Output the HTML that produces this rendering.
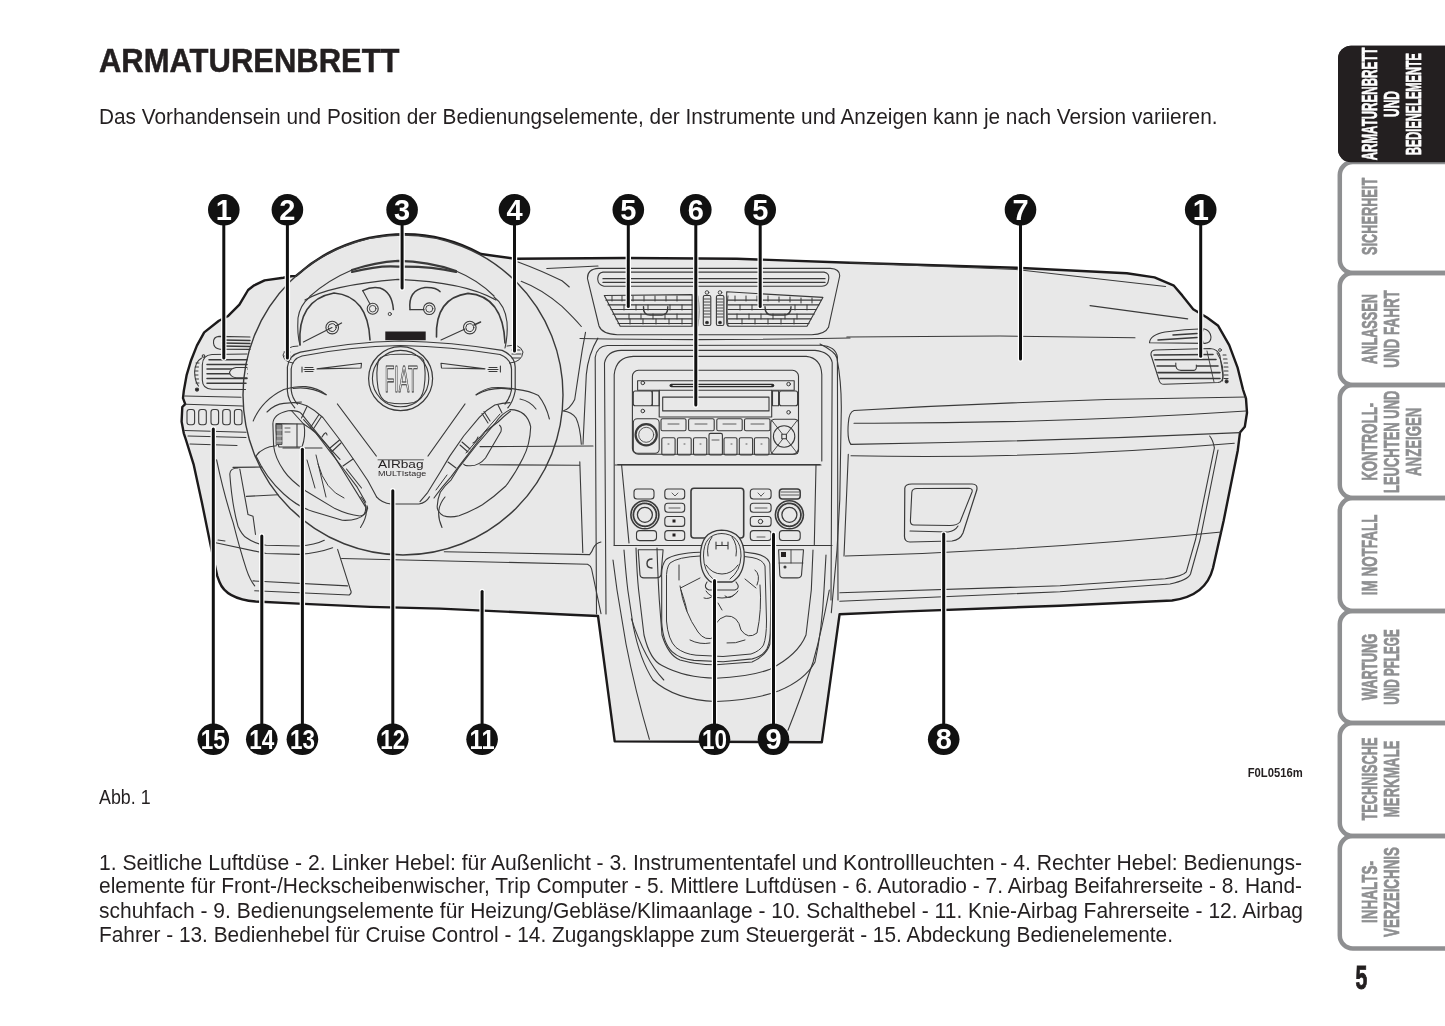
<!DOCTYPE html>
<html><head><meta charset="utf-8">
<style>
html,body{margin:0;padding:0;background:#fff;width:1445px;height:1026px;overflow:hidden}
svg{position:absolute;left:0;top:0;will-change:transform}
.t{font-family:"Liberation Sans",sans-serif;fill:#231f20}
</style></head><body>
<svg width="1445" height="1026" viewBox="0 0 1445 1026">
<text class="t" x="99" y="71.8" font-size="33.5" font-weight="bold" stroke="#231f20" stroke-width="0.5" textLength="300.5" lengthAdjust="spacingAndGlyphs">ARMATURENBRETT</text>
<text class="t" x="99" y="124.4" font-size="22" textLength="1118.5" lengthAdjust="spacingAndGlyphs">Das Vorhandensein und Position der Bedienungselemente, der Instrumente und Anzeigen kann je nach Version variieren.</text>
<g fill="none" stroke="#3a3a3a" stroke-linejoin="round" stroke-linecap="round">
<!-- silhouette -->
<path fill="#e8e8e8" stroke="#1c1a1b" stroke-width="2.4" d="M182.3 407 L185.2 404.1 L183 398.2 L183.8 390.9 L186.7 374.8 L191.1 360.2 L196.9 345.6 L204.2 332.4 L218.9 320.7 L227.7 316.3 L239.4 304.6 L248.1 290 L254.2 285.3 L264.6 280.4 L283.3 277.7 L291 276.3 L296 275.9 L298.5 273.8 A160 160 0 0 1 481 254 L515.4 258.8 L626 258 L736.8 258.8 L850 262.7 L1016 267.7 L1126.8 273.2 L1154.5 277.4 L1173.9 285.7 L1182.2 295.4 L1193.2 309.2 L1207 317.5 L1218.2 325.8 L1229.2 345.2 L1237.5 367.3 L1243 389.5 L1246 398.7 L1247 412.7 L1244.8 426.8 L1240 432.6 L1237.8 450.2 L1223.7 520.4 L1213 568 Q1206 596 1172 600.5 L1060 605.7 L900 611.6 L839.6 614.2 L821.8 742.3 L614.7 741.4 L598 616 L570 614.7 L440 608.6 L370 606.9 L298.6 603.6 L255.7 601.5 Q226 599 219.5 582 L217.2 575.8 L210.7 545.8 L202 503 L193.6 464.3 L186 440 L183.8 433.3 L181.6 421.6 Z"/>

<!-- LEFT SIDE: vent, buttons, lower panel -->
<g stroke-width="1.1">
<path d="M184.7 396 L241 397.2 M185.8 404.2 L242.5 406"/>
<path d="M184.7 430.5 L246 432.3 M188 436 L246 437.5"/>
<rect x="187" y="409.5" width="7.6" height="15.2" rx="2.5"/>
<rect x="198.7" y="409.5" width="7.6" height="15.2" rx="2.5"/>
<rect x="211" y="409.5" width="7.6" height="15.2" rx="2.5"/>
<rect x="222.7" y="409.5" width="7.6" height="15.2" rx="2.5"/>
<rect x="234.4" y="409.5" width="7.6" height="15.2" rx="2.5"/>
<!-- upper small vent -->
<path d="M250 337 L219 336.4 Q213 337 213.5 343 Q214 348.5 220 349.2 L250 349.4"/>
<path d="M222 340 L250 340.5 M222 343 L250 343.5 M222 346 L250 346.5" stroke-width="1.4"/>
<!-- main vent -->
<path d="M247 354 L212 354.5 Q202.5 355 202.3 365 L202.3 380 Q202.5 389 212 389.2 L245.5 389.5"/>
<path d="M209 359.8 L247 359.8 M207 364.4 L247 364.4 M207 369.1 L247 369.1 M207 373.8 L247 373.8 M207 378.5 L247 378.5 M207 383.2 L246 383.2" stroke-width="1.5"/>
<path d="M247 367.5 L236 367.5 Q230.5 368.5 229.5 372.5 Q230.5 377 236 377.8 L247 377.8" fill="#e8e8e8" stroke-width="1.1"/>
<path d="M201.6 358 Q195 362 194.6 372 Q195 382 198.5 386" stroke-width="1.1"/>
<path d="M196 363 L199 363 M195.3 367 L198.5 367 M195 371 L198 371 M195 375 L198 375 M195.3 379 L198.5 379 M196 383 L199 383" stroke-width="1"/>
<circle cx="197" cy="389.6" r="1.6" fill="#231f20"/>
<circle cx="203.5" cy="356" r="1.3"/>
<!-- lower knee panel -->
<path d="M190 444 L237 445.5" />
<path d="M216.6 459.9 Q224 495 233.2 522.9 Q240 550 246.4 569.3 Q250 580 254.7 585.9"/>
<path d="M238 468 Q230 468 229.8 474 Q232 505 238 526.2 Q242 535 246.4 537.8 Q255 544 266.3 545.3 L299.5 546 Q315 545 324.3 540.3"/>
<path d="M233 467.4 L262 467"/>
<path d="M239.8 469 L248 514.6 L253 516.2 L255.5 534.5"/>
<path d="M246.4 496.4 L278 494.7"/>
<path d="M215.7 542.8 Q240 548 266.3 553.5 L299.5 554.4 Q318 553 332.6 547.7"/>
<path d="M253 580.9 L347.5 585.9 M254.7 590.8 L349.2 595 Q352 593 350.8 590.8 L337.6 549.4"/>
<path d="M218 540 L225 541"/>
</g>

<!-- STEERING WHEEL -->
<g stroke-width="1.2">
<circle cx="403" cy="395" r="160" stroke-width="1.4"/>
<!-- inner rim edge top + visor -->
<path d="M309.8 296.4 Q328 280 352 270" stroke-width="1.2"/><path d="M352 270 Q375 262 398 260.8 Q428 261 456 271" stroke-width="2.3"/><path d="M456 271 Q478 280 494 296" stroke-width="1.2"/>
<path d="M352 272 Q380 265 398 266.7 Q430 266 456 272" stroke-width="2.2"/>
<path d="M305 300 Q330 285 398 279.3 Q465 282 496 300"/>
</g>
<!-- cluster -->
<g stroke-width="1.3">
<!-- left side pods of hood -->
<path d="M309.8 297 Q300 305 298 318 Q297 335 300 345" stroke-width="1.1"/>
<path d="M494 297 Q505 305 507 322 Q508 335 505 348" stroke-width="1.1"/>
<!-- left gauge -->
<path d="M300 345 Q297 300 334 293 Q368 296 370 340" stroke-width="1.6"/>
<path d="M303.4 342 L332 327.6" stroke-width="1.1"/>
<path d="M336 326 L341.5 323" stroke-width="1.4"/>
<circle cx="332.2" cy="327.6" r="6.3" stroke-width="1.1"/>
<circle cx="332.2" cy="327.6" r="4" stroke-width="1"/>
<!-- small left gauge -->
<path d="M362.8 290.7 Q372 286 380 288 Q392 292 393.4 309.6" stroke-width="1.5"/>
<path d="M362.8 290.7 L370 304" stroke-width="1.1"/>
<circle cx="372.7" cy="308.7" r="5.5" stroke-width="1.1"/>
<circle cx="372.7" cy="308.7" r="3.3" stroke-width="0.9"/>
<circle cx="389.8" cy="314" r="1.6" stroke-width="0.9"/>
<!-- small right gauge -->
<path d="M410 309.6 Q408 290 425 287.5 Q436 287 440 291.6" stroke-width="1.5"/>
<path d="M410 309.6 L424 309.6" stroke-width="1.1"/>
<circle cx="429.3" cy="308.7" r="5.8" stroke-width="1.1"/>
<circle cx="429.3" cy="308.7" r="3.5" stroke-width="0.9"/>
<!-- right gauge -->
<path d="M436.5 337 Q435 298 468 293.4 Q503 296 505 343" stroke-width="1.6"/>
<path d="M441 340 L465 329" stroke-width="1.1"/>
<path d="M474 325 L480.6 322" stroke-width="1.4"/>
<circle cx="469.8" cy="327.6" r="6.3" stroke-width="1.1"/>
<circle cx="469.8" cy="327.6" r="4" stroke-width="1"/>
<rect x="385.3" y="331.5" width="40.4" height="8.7" fill="#231f20" stroke="none"/>
<!-- stalk ends near hood -->
<path d="M298 346 Q286 346 283 355 Q284 362 293 363" stroke-width="1"/>
<path d="M284 352 L290 352 M284 356 L290 356 M285 359 L291 359" stroke-width="1"/>
<path d="M507 346 Q520 343 523 352 Q522 362 510 363" stroke-width="1"/>
<path d="M512 350 L520 350 M512 354 L521 354 M512 358 L520 358" stroke-width="1"/>
</g>

<!-- hub -->
<g stroke-width="1.2">
<path d="M294.8 407.8 Q288 400 287.4 391 L287.4 367 Q289 355 300.4 352.2 Q350 342 400.4 341 Q452 342 502.2 350.4 Q515 356 515.2 367 L515.2 391 Q513 402 507.8 407.8 M376.5 496.8 Q382 503 391 504 L419 504 Q426 503 429.5 496.8"/>
<path d="M302 356 Q350 346.5 400.4 345.5 Q452 346.5 500 354.5 Q511 359 511.5 369 L511.5 390 Q510 398 505 404 M297.5 404 Q292 398 291.2 390 L291.2 369 Q292 359 302 356"/>
<!-- FIAT -->
<circle cx="400.6" cy="378.6" r="32" stroke-width="1.2"/>
<circle cx="400.6" cy="378.6" r="28.2" stroke-width="1.1"/>
<path d="M401 354.3 Q420 353.5 423.5 360 Q426.5 372 424 388 Q422 400 414 402.5 Q401 405 388 402.5 Q380 400 378 388 Q375.5 372 378.5 360 Q382 353.5 401 354.3 Z" stroke-width="1.1"/>
<text x="401.2" y="391.9" text-anchor="middle" font-family="Liberation Sans" font-size="37" fill="none" stroke="#2a2a2a" stroke-width="1.05" textLength="33" lengthAdjust="spacingAndGlyphs">FIAT</text>
<!-- horn wedges -->
<path d="M317 368.9 L361.5 363.3 L361 368 Z" stroke-width="1.1"/>
<path d="M441 363.3 L485 368.9 L441.5 368 Z" stroke-width="1.1"/>
<path d="M302 367 L302 372 M304 369.5 L314 369.5 M305 367.5 L313 367.5 M305 371.5 L313 371.5" stroke-width="1.1"/>
<path d="M500.4 366 L500.4 372 M488 369.5 L498 369.5 M489 367.5 L497 367.5 M489 371.5 L497 371.5" stroke-width="1.1"/>
<!-- side arcs on hub -->
<path d="M293 388.5 Q310 386 326 394.8" />
<path d="M476.3 394.8 Q492 386 511.5 389.3"/>
<!-- inner diagonal lines -->
<path d="M337.4 404 L376.3 456"/>
<path d="M465 404 L428 456"/>
<!-- airbag text -->
<text x="378" y="468" font-family="Liberation Sans" font-size="10" fill="#231f20" stroke="none" textLength="45.5" lengthAdjust="spacingAndGlyphs">AIRbag</text>
<path d="M378 459.8 L423.5 459.8" stroke-width="0.8"/>
<text x="378" y="476.3" font-family="Liberation Sans" font-size="7.5" fill="#231f20" stroke="none" textLength="48.3" lengthAdjust="spacingAndGlyphs">MULTIstage</text>
</g>

<!-- spokes -->
<g stroke-width="1.1">
<!-- left spoke band -->
<path d="M292.9 402.5 Q300 403 306.8 405.7 Q315 410 322.9 417.5 L340 440 L355 461.5 L367.9 480.7 L376.5 496.8"/>
<path d="M291.8 411 L303.6 424 Q310 428 315.4 432.5 L329.3 450.7 L344.3 470 L357.2 487.2 L365.7 502.2"/>
<path d="M303.6 419.6 L340 459.3 M346.5 469 L361.5 488"/>
<path d="M301.5 418 L307 406.5 M310.5 427.5 L319 414.5 M313 429.5 L321.5 416.5 M330 448 L339.5 440 M332 451.5 L341 443 M343 466 L353 459"/>
<path d="M322 437 Q326 430 327 435"/>
<!-- left inner loop (opening) -->
<path d="M272.9 423.8 Q273 414 288.2 410.7 Q298 410 301.4 413.6 L313 428.2 L327.7 445.8 L365.7 507.1 Q366 516 359.8 516 Q348 515 335 508.6 L305.8 491 Q290 480 283.8 470.6 Q275 458 273.6 445.8 Z"/>
<!-- left outer loop -->
<path d="M253.2 421 Q262 400 283.8 389.5 Q296 386 305.8 386.6 Q318 388 326.2 394.6"/>
<path d="M267 412 Q275 404 283.8 403.4 L301.4 402"/>
<path d="M256 456 Q262 447 276.5 445.8 M256 456 Q266 478 283.8 494 Q298 507 313 511.5 L342.3 520.3 Q358 521 364.2 514.4 Q369 510 367 505.7"/>
<!-- right spoke band -->
<path d="M510 402.6 Q502 403 494.8 405 Q486 410 479.3 417.4 L463.7 436 L449.6 456.4 L440.3 472 L427.8 492.3 L420 501.6"/>
<path d="M510.4 411.2 Q504 416 498 422 L485.5 431.5 L460.5 464.2 L451.2 476.7 L441.8 487.6 L434 498"/>
<path d="M500 414 L466 453 M447 475 L436 490" stroke-width="1"/>
<path d="M502 413 L498 405 M490 421 L484 411.5 M488 423 L482 413.5 M470 449 L462 442 M468 452 L460 445 M456 468 L448 462"/>
<path d="M499.5 425.2 Q502 427 501 431.5 L485.5 458 Q479 466 469.9 465.8 Q465 466 463.7 464.2"/>
<path d="M478 437 Q476 442 473 443"/>
<!-- right inner loop (opening) -->
<path d="M510.4 409.6 Q527 410 530.7 426.8 Q530 445 523 458 Q515 474 505.8 486 Q494 497 482.4 504.7 Q470 512 459 515.7 Q450 518 443.4 515.7 Q437 512 437.2 506.3 Q437.5 499 440.3 492.3 Q445 485 451.2 479.8 L459 467.3 L476.1 445.5 L494.8 423.7 Q502 413 510.4 409.6 Z"/>
<!-- right outer arcs -->
<path d="M476.1 394.8 Q484 389 491.7 387.8 Q505 387 516.7 389.4 Q530 391 538.5 395.6 Q546 405 549.4 419"/>
<path d="M520 399 Q530 401 536 409"/>
<!-- inner rim bottom -->
<path d="M361 497 Q372 510 360.5 527.5 M445 497 Q434 510 442 527.5"/>
<!-- turn signal stalk (left) -->
<path d="M276 423.6 L304 424 Q306 436 302 447 L279 447 Q276 440 276 423.6 Z"/>
<rect x="276.5" y="424.5" width="5.5" height="20" fill="#8a8a8a" stroke-width="0.8"/>
<path d="M277 430 L282 430 M277 436 L282 436 M277 441 L282 441" stroke="#e8e8e8" stroke-width="0.8"/>
<path d="M285 428 L290 428 M285 432 L290 432" stroke-width="0.8"/>
<path d="M297 424 L297 447"/>
<path d="M283 448 L322 448"/>
<path d="M316 455 L326 497 M318 464 Q325 490 344 498 M307 460 L315 488" stroke-width="1"/>
</g>
<!-- CENTER VENTS -->
<g stroke-width="1.1">
<path d="M598.7 268.4 L830.4 268.4 Q840 269 839.7 276 L828.5 327.3 Q825 334.5 811.7 334.7 L617.4 334.7 Q602 334 599 326 L587.5 278.7 Q587 269 598.7 268.4 Z"/>
<path d="M603 272.1 L824 272.1 Q830 273 828.5 280 Q828 286 822 286.2 L604 286.2 Q598 285 597.7 279 Q598 272.5 603 272.1 Z"/>
<path d="M603 278.7 L825 278.7 M603 282.4 L825 282.4" stroke-width="1.3"/>
<path d="M604.3 295.5 L692.1 294.6 L692.1 326.3 L620.2 326.3 Z"/>
<path d="M606 300.2 L692 300.2 M608 304.8 L692 304.8 M611 309.5 L692 309.5 M613 314.2 L692 314.2 M616 318.9 L692 318.9 M618 323.5 L692 323.5" stroke-width="1.2"/>
<path d="M612 296 L612 301 M622 296 L622 301 M633 296 L633 301 M644 296 L644 301 M655 296 L655 301 M666 296 L666 301 M677 296 L677 301 M624 305 L624 310 M636 305 L636 310 M648 305 L648 310 M670 305 L670 310 M682 305 L682 310 M629 314 L629 319 M641 314 L641 319 M653 314 L653 319 M665 314 L665 319 M677 314 L677 319 M630 319 L630 324 M643 319 L643 324 M656 319 L656 324 M669 319 L669 324 M682 319 L682 324" stroke-width="1"/>
<path d="M643.5 306.7 Q643 315 650 315.1 L662 315.1 Q668 315 667.8 306.7" stroke-width="1.4"/>
<path d="M726.7 291.8 L822.9 297.4 L807 326.3 L729.5 326.3 Q726.5 326 726.7 322 Z"/>
<path d="M728 300.2 L821 300.2 M728 304.8 L819 304.8 M728 309.5 L816 309.5 M728 314.2 L814 314.2 M728 318.9 L811 318.9 M728 323.5 L809 323.5" stroke-width="1.2"/>
<path d="M735 296 L735 301 M746 296 L746 301 M757 296 L757 301 M768 296 L768 301 M779 297 L779 302 M790 297 L790 302 M801 298 L801 303 M812 298 L812 303 M740 305 L740 310 M752 305 L752 310 M795 305 L795 310 M807 305 L807 310 M737 314 L737 319 M749 314 L749 319 M761 314 L761 319 M773 314 L773 319 M785 314 L785 319 M797 314 L797 319 M742 319 L742 324 M755 319 L755 324 M768 319 L768 324 M781 319 L781 324 M794 319 L794 324" stroke-width="1"/>
<path d="M765 306.7 Q765 315 772 315.1 L784 315.1 Q791 315 791 306.7" stroke-width="1.4"/>
<rect x="703.3" y="295.5" width="7.5" height="30" rx="1.5"/>
<rect x="716.4" y="295.5" width="7.5" height="30" rx="1.5"/>
<path d="M704 299 L710 299 M704 302 L710 302 M704 305 L710 305 M704 308 L710 308 M704 311 L710 311 M704 314 L710 314 M704 317 L710 317 M717 299 L723 299 M717 302 L723 302 M717 305 L723 305 M717 308 L723 308 M717 311 L723 311 M717 314 L723 314 M717 317 L723 317" stroke-width="0.9"/>
<circle cx="707" cy="292.5" r="1.8" stroke-width="0.9"/>
<circle cx="720" cy="292.5" r="1.8" stroke-width="0.9"/>
<circle cx="707" cy="322.5" r="1.3" fill="#231f20"/>
<circle cx="720" cy="322.5" r="1.3" fill="#231f20"/>
<path d="M698 296 Q700 310 698 326 M728 296 Q726 310 728 326" stroke-width="0.9"/>
</g>

<!-- CONSOLE FRAME -->
<g stroke-width="1.1">
<path d="M580 338.5 Q700 341 850 338"/>
<path d="M596.5 614 L595.2 357.3 Q597 346 607.3 345.5 L820 345.2 Q836 346 837.4 357.3 L838 600"/>
<path d="M606 614 L604.5 363 Q607 351 621.1 350.4 L815 350.4 Q830 352 832.2 362.5 L831 600"/>
<path d="M614.2 545 L614.2 374.6 Q616 357 633.3 356.4 L806.3 356.4 Q821 358 821.8 374.6 L821.8 461"/>
<path d="M617.7 464.6 L820 464.6"/>
<!-- radio face -->
<rect x="632.4" y="370.3" width="166.1" height="83.9" rx="6"/>
<path d="M637.6 380.7 L794.2 380.7 L794.2 390.2 L637.6 390.2 Z"/>
<path d="M671.3 385.5 L772.5 385.5" stroke="#2a2a2a" stroke-width="3.6"/>
<path d="M673 385.5 L771 385.5" stroke="#d8d8d8" stroke-width="1"/>
<circle cx="642.8" cy="382.9" r="1.8" stroke-width="1"/>
<circle cx="788.6" cy="384.1" r="1.8" stroke-width="1"/>
<circle cx="642.8" cy="411" r="1.8" stroke-width="1"/>
<circle cx="788.6" cy="412.3" r="1.8" stroke-width="1"/>
<path d="M659.2 390.2 L659.2 417 L771.7 417 L771.7 390.2"/>
<rect x="662.7" y="397.1" width="106.3" height="13.8"/>
<rect x="633.3" y="391" width="19" height="14.7" rx="2"/>
<rect x="652.3" y="391" width="6.9" height="14.7"/>
<rect x="772.5" y="391" width="6.1" height="14.7"/>
<rect x="779.4" y="391" width="18.2" height="14.7" rx="2"/>
<rect x="661" y="418.7" width="25" height="12.1" rx="1.5"/>
<rect x="688.6" y="418.7" width="25.6" height="12.1" rx="1.5"/>
<rect x="716.8" y="418.7" width="25.4" height="12.1" rx="1.5"/>
<rect x="744.5" y="418.7" width="25.5" height="12.1" rx="1.5"/>
<rect x="661.8" y="437.8" width="13.3" height="17.2" rx="1.5"/>
<rect x="677.4" y="437.8" width="13.8" height="17.2" rx="1.5"/>
<rect x="693.5" y="437.8" width="13.3" height="17.2" rx="1.5"/>
<rect x="709" y="433.4" width="13.4" height="21.6" rx="1.5"/>
<rect x="724" y="437.8" width="13" height="17.2" rx="1.5"/>
<rect x="739.3" y="437.8" width="13.3" height="17.2" rx="1.5"/>
<rect x="754.4" y="437.8" width="14.6" height="17.2" rx="1.5"/>
<path d="M668 424 L679 424 M695 424 L707 424 M723 424 L736 424 M751 424 L764 424 M668 444 L669 444 M684 444 L685 444 M700 444 L701 444 M712 440 L719 440 M731 444 L732 444 M746 444 L747 444 M761 444 L762 444" stroke-width="0.8"/>
<rect x="633.3" y="418.7" width="25.9" height="34.6" rx="4"/>
<circle cx="646.2" cy="434.8" r="10.6" stroke-width="2.2"/>
<circle cx="646.2" cy="434.8" r="7.5" stroke-width="0.8"/>
<rect x="770.8" y="419.2" width="27.7" height="35" rx="4"/>
<circle cx="784.1" cy="436.5" r="10.7"/>
<path d="M771.5 420 L797.5 453.5 M797.5 420 L771.5 453.5" stroke-width="0.9"/>
<rect x="781.8" y="434.2" width="4.6" height="4.6" fill="#e8e8e8"/>
</g>

<!-- CLIMATE -->
<g stroke-width="1.1">
<path d="M615 465 L821 465"/>
<path d="M621.6 465 L629 543 M816 465 L814.3 544.7"/>
<path d="M614 545.5 L832 545.5"/>
<rect x="691" y="488.2" width="52.7" height="49.8" rx="3" stroke-width="1.6"/>
<circle cx="644.9" cy="514.8" r="14" stroke-width="1.6"/>
<circle cx="644.9" cy="514.8" r="11.5" stroke-width="1.8" stroke-dasharray="1.2 1"/>
<circle cx="644.9" cy="514.8" r="7.5" stroke-width="1.3"/>
<circle cx="789.4" cy="514.8" r="14" stroke-width="1.6"/>
<circle cx="789.4" cy="514.8" r="11.5" stroke-width="1.8" stroke-dasharray="1.2 1"/>
<circle cx="789.4" cy="514.8" r="7.5" stroke-width="1.3"/>
<rect x="634" y="489" width="20" height="10" rx="3"/>
<rect x="636.5" y="530.6" width="20" height="10" rx="3"/>
<rect x="664.8" y="489" width="19.9" height="10" rx="3"/>
<rect x="664.8" y="503.2" width="19.9" height="9.1" rx="3"/>
<rect x="664.8" y="516.5" width="19.9" height="9.9" rx="3"/>
<rect x="664.8" y="530.6" width="19.9" height="9.9" rx="3"/>
<rect x="750.3" y="489" width="20.8" height="10" rx="3"/>
<rect x="750.3" y="503.2" width="20.8" height="9.1" rx="3"/>
<rect x="750.3" y="516.5" width="20.8" height="9.9" rx="3"/>
<rect x="750.3" y="530.6" width="20.8" height="9.9" rx="3"/>
<rect x="779.4" y="489" width="20.8" height="10" rx="3" stroke-width="1.5"/>
<path d="M781 492 L799 492 M781 495 L799 495" stroke-width="0.8"/>
<rect x="779.4" y="530.6" width="20.8" height="9.9" rx="3"/>
<path d="M672 493 L675 496 L678 493 M758 493 L761 496 M761 496 L764 493 M669 508 L680 508 M755 508 L767 508 M757 537 L765 537" stroke-width="0.8"/>
<rect x="672.5" y="519.5" width="3" height="3" fill="#231f20" stroke="none"/>
<rect x="672.5" y="533.5" width="3" height="3" fill="#231f20" stroke="none"/>
<circle cx="760.5" cy="521.5" r="2.2" stroke-width="1"/>
<!-- small buttons below -->
<path d="M638.2 549.7 L663.1 549.7 L661 575 Q660 578 656 577.9 L644 577.9 Q640.5 578 640 575 Z"/>
<path d="M652 559 Q647 559 647 563.5 Q647 568 652 568" stroke-width="1.4"/>
<path d="M778.6 549.7 L803.5 549.7 L801.5 575 Q801 578 797 577.9 L784 577.9 Q780 578 779.8 575 Z"/>
<path d="M779 563 L803 563 M791 550 L791 563" stroke-width="0.9"/>
<rect x="781" y="552" width="5" height="5" fill="#231f20" stroke="none"/>
<circle cx="785" cy="567" r="1" fill="#231f20"/>
</g>

<!-- GEAR & BOOT & U-lines -->
<g stroke-width="1.1">
<path d="M657 548 Q658 580 659.3 600 L662 635 Q668 655 680 660 Q698 665 716 664.7 L752 662 Q766 656 770 644 L771 600 L772 560"/>
<path d="M636 548 Q637 575 638.6 590 L644 635 Q650 660 662 665.6 Q685 678 716 678.2 Q750 677 770 669.2 Q798 655 806 635 L811.3 590 L813 550"/>
<path d="M624 550 Q626 575 627.8 590 L633.2 626 Q640 660 653 680 Q675 700 716 701.5 Q755 700 779 690.8 Q805 680 815 662 Q822 630 824 590 L826 555"/>
<path d="M613 560 Q615 575 617 590 Q622 620 626 644 Q635 690 649.4 739.3"/>
<path d="M631.4 618.8 Q645 660 663.8 680"/>
<path d="M829.3 590 Q822 630 813.1 662 Q800 700 788 730.3"/>
<!-- boot -->
<path d="M699.7 552.2 Q675 553 666 559.5 Q661 565 661.7 578.5 L661.7 622.3 Q663 643 672 651.6 Q680 659 693.9 660.4 L723.1 661.8 L752.3 658.9 Q763 656 767 648.7 Q771 640 771.3 622.3 L769.9 563.9 Q768 556 755.3 553.6 L744 552"/>
<path d="M700 556 Q678 557 670 563 Q666 568 666.5 580 L666.5 621 Q668 640 676 647.5 Q684 654 696 655.2 L723 656.5 L751 654 Q760 651 763.5 645 Q766.5 637 766.5 621 L765 566 Q763 559.5 752 557.5 L744 556.5" stroke-width="1"/>
<path d="M679 565 L679 580 M681 590 Q686 605 687 611 M680 586 Q684 612 698 632 Q705 642 715 637 Q712 620 726 616 Q738 615 741 630 Q748 640 757 633 Q762 610 760 585 M755 570 Q761 575 757 585 M680.5 588 L700 578 M745 579 L756 588 M704 598 Q709 600 714 595 M725 596 Q730 600 735 594 M718 603 L722 610 M690 640 Q700 645 710 643 M745 640 Q735 644 727 643" stroke-width="1"/>
<!-- knob -->
<path d="M721.6 530.2 Q744.3 531 744.3 556.5 Q744 575 732 582 L711 582 Q700.4 575 700.4 556.5 Q700.4 531 721.6 530.2 Z" fill="#e8e8e8" stroke-width="1.3"/>
<path d="M721.6 533.5 Q741 534 741 556 Q740.5 571 730 579 M713 579 Q703.5 571 703.5 556 Q703.5 534 721.6 533.5" stroke-width="1"/>
<path d="M712 537 Q706 545 708 556 M732 537 Q738 545 736 556" stroke-width="1"/>
<path d="M706 565 Q712 574 722 574 Q732 574 738 565" stroke-width="1"/>
<path d="M707 582 Q703 588 709 590 L735 590 Q741 588 736 582" stroke-width="1.1"/>
<path d="M706 591 Q710 598 722 598 Q734 598 738 591" stroke-width="1"/>
<path d="M716 542 L716 549 M728 542 L728 549 M716 545.5 L728 545.5 M722 542 L722 545.5" stroke-width="1.1"/>
</g>
<!-- RIGHT PART: top lines, glovebox, right vent -->
<g stroke-width="1.1">
<path d="M518 261.9 Q541.6 270.6 562 280.8 Q566 284 569.3 287"/>
<path d="M546.8 268.5 L598 266"/>
<path d="M521.2 281.3 Q541.6 289 562 306.4 Q574 318 581.3 326.5"/>
<path d="M585.5 332.3 Q582 350 579.7 366.3 L574.7 399.5 Q570 409 563 411 Q572 412 576 418 Q580 426 581.3 444.2"/>
<path d="M597.9 338.1 Q588 355 586.3 374.6 L583 444.2"/>
<path d="M480 446.6 L593 446"/>
<path d="M480 464.7 L579.8 465.3 M579.8 461.7 L582.8 552.4"/>
<path d="M444.3 551.8 L589.6 554.6 Q592 552 593.5 547.8 Q596 543 601 542 M341.6 558.5 L587.6 564.3 Q591 566 591.6 569 L601 613.7"/>
<!-- top area lines -->
<path d="M850 262.7 L1016 269.5 L1165.6 286.5"/>
<path d="M846.8 337 L1000 336 L1135 337.7"/>
<path d="M1090 305.6 L1187.7 318.9"/>
<!-- console right frame -->
<path d="M820 344 Q836 352 837 358.3 Q842 385 841.2 414.8 L839.8 499.5 L837 550.4 L831.3 612.6"/>
<!-- glove ledge -->
<path d="M854 410.5 Q1050.0 399.2 1246 397 M848.3 423.2 Q849 412 854 410.5 M851 444.4 Q847 440 848.3 423.2"/>
<path d="M854 423.2 Q1050.0 423.9 1246 411"/>
<path d="M851 444.4 Q1044.5 441.5 1240 432.6"/>
<path d="M851 455.7 Q1043.3 459.6 1234.3 443.2"/>
<path d="M848.3 454.3 L844 556"/>
<path d="M845.4 556 Q1032.6 551.0 1221.4 532"/>
<path d="M839.8 592.8 L1060 585.8 L1165.3 578.8 Q1183 576 1186.3 571.8 L1195.7 539 L1214.4 447.8 Q1213 440 1209.7 436"/>
<path d="M839.8 601.3 L1060 591.7 L1170 584 Q1188 580 1190.5 574 L1200 540 L1218 450"/>
<!-- glovebox handle -->
<path d="M904.8 488.2 Q905 484 912 484 L972 484 Q978 484 976.8 490 L963 533 Q960 540 952 541 L910 542 Q904 542 904.5 535 Z" stroke-width="1.2"/>
<path d="M911.8 492.5 Q912 488.5 917 488.5 L969 488.2 Q973 488.5 972 492 L960 522 Q957 525.5 950 525.5 L914 525 Q910.4 525 910.4 521 Z"/>
<path d="M910 531 L948 532 Q955 531 958 526"/>
<!-- right vents -->
<path d="M1149.5 342.7 Q1150 335 1165 332 Q1185 329 1203.6 328.8 Q1210 330 1211 337 Q1211 343 1205 343.4 Z"/>
<path d="M1158 340 L1197 337.5 M1173 335 L1197 333.5" stroke-width="1.5"/>
<path d="M1203.6 329 Q1200 336 1203.6 343.2" stroke-width="0.9"/>
<path d="M1155 350 L1210 348.5 Q1218 349 1220 356 L1223 376 Q1223 382 1218 382.5 L1164 384.3 Q1160 384.3 1159 380 L1151 355 Q1150.5 350.5 1155 350 Z"/>
<path d="M1154 355 L1213 354.5 M1155 359.8 L1216 359.5 M1157 366 L1218 366 M1158 372.6 L1220 372.6 M1160 378.5 L1220 378.5" stroke-width="1.6"/>
<path d="M1175.8 363 Q1175 370.4 1181 370.4 L1194 370.4 Q1197 370 1196.3 365" fill="#e8e8e8" stroke-width="1.1"/>
<path d="M1207 351 L1214 382" stroke-width="0.9"/>
<path d="M1217 353 Q1225 365 1222.6 381" stroke-width="1"/>
<path d="M1223 355 L1226 355 M1223.5 359 L1227 359 M1224 363 L1227.5 363 M1224 367 L1228 367 M1224 371 L1228 371 M1224 375 L1228 375 M1224 378.5 L1228 378.5" stroke-width="1.1"/>
<circle cx="1220" cy="350" r="1.4" stroke-width="0.9"/>
<circle cx="1226.6" cy="381.4" r="1.5" fill="#231f20"/>
</g>

</g>
<line x1="223.8" y1="209.8" x2="223.8" y2="358" stroke="#fff" stroke-width="5.4" stroke-linecap="round"/>
<line x1="287.4" y1="209.8" x2="287.4" y2="358" stroke="#fff" stroke-width="5.4" stroke-linecap="round"/>
<line x1="402.1" y1="209.8" x2="402.1" y2="288" stroke="#fff" stroke-width="5.4" stroke-linecap="round"/>
<line x1="514.5" y1="209.8" x2="514.5" y2="351" stroke="#fff" stroke-width="5.4" stroke-linecap="round"/>
<line x1="628.3" y1="209.8" x2="628.3" y2="306.4" stroke="#fff" stroke-width="5.4" stroke-linecap="round"/>
<line x1="695.8" y1="209.8" x2="695.8" y2="405" stroke="#fff" stroke-width="5.4" stroke-linecap="round"/>
<line x1="760.2" y1="209.8" x2="760.2" y2="306.4" stroke="#fff" stroke-width="5.4" stroke-linecap="round"/>
<line x1="1020.5" y1="209.8" x2="1020.5" y2="359" stroke="#fff" stroke-width="5.4" stroke-linecap="round"/>
<line x1="1200.7" y1="209.8" x2="1200.7" y2="356.3" stroke="#fff" stroke-width="5.4" stroke-linecap="round"/>
<line x1="213.3" y1="739.3" x2="213.3" y2="428.9" stroke="#fff" stroke-width="5.4" stroke-linecap="round"/>
<line x1="261.8" y1="739.3" x2="261.8" y2="536" stroke="#fff" stroke-width="5.4" stroke-linecap="round"/>
<line x1="302.4" y1="739.3" x2="302.4" y2="449.3" stroke="#fff" stroke-width="5.4" stroke-linecap="round"/>
<line x1="392.8" y1="739.3" x2="392.8" y2="490.7" stroke="#fff" stroke-width="5.4" stroke-linecap="round"/>
<line x1="482.1" y1="739.3" x2="482.1" y2="591.5" stroke="#fff" stroke-width="5.4" stroke-linecap="round"/>
<line x1="714.5" y1="739.3" x2="714.5" y2="580.6" stroke="#fff" stroke-width="5.4" stroke-linecap="round"/>
<line x1="773.5" y1="739.3" x2="773.5" y2="534.3" stroke="#fff" stroke-width="5.4" stroke-linecap="round"/>
<line x1="943.7" y1="739.3" x2="943.7" y2="534" stroke="#fff" stroke-width="5.4" stroke-linecap="round"/>
<line x1="223.8" y1="209.8" x2="223.8" y2="358" stroke="#111" stroke-width="3" stroke-linecap="round"/>
<line x1="287.4" y1="209.8" x2="287.4" y2="358" stroke="#111" stroke-width="3" stroke-linecap="round"/>
<line x1="402.1" y1="209.8" x2="402.1" y2="288" stroke="#111" stroke-width="3" stroke-linecap="round"/>
<line x1="514.5" y1="209.8" x2="514.5" y2="351" stroke="#111" stroke-width="3" stroke-linecap="round"/>
<line x1="628.3" y1="209.8" x2="628.3" y2="306.4" stroke="#111" stroke-width="3" stroke-linecap="round"/>
<line x1="695.8" y1="209.8" x2="695.8" y2="405" stroke="#111" stroke-width="3" stroke-linecap="round"/>
<line x1="760.2" y1="209.8" x2="760.2" y2="306.4" stroke="#111" stroke-width="3" stroke-linecap="round"/>
<line x1="1020.5" y1="209.8" x2="1020.5" y2="359" stroke="#111" stroke-width="3" stroke-linecap="round"/>
<line x1="1200.7" y1="209.8" x2="1200.7" y2="356.3" stroke="#111" stroke-width="3" stroke-linecap="round"/>
<line x1="213.3" y1="739.3" x2="213.3" y2="428.9" stroke="#111" stroke-width="3" stroke-linecap="round"/>
<line x1="261.8" y1="739.3" x2="261.8" y2="536" stroke="#111" stroke-width="3" stroke-linecap="round"/>
<line x1="302.4" y1="739.3" x2="302.4" y2="449.3" stroke="#111" stroke-width="3" stroke-linecap="round"/>
<line x1="392.8" y1="739.3" x2="392.8" y2="490.7" stroke="#111" stroke-width="3" stroke-linecap="round"/>
<line x1="482.1" y1="739.3" x2="482.1" y2="591.5" stroke="#111" stroke-width="3" stroke-linecap="round"/>
<line x1="714.5" y1="739.3" x2="714.5" y2="580.6" stroke="#111" stroke-width="3" stroke-linecap="round"/>
<line x1="773.5" y1="739.3" x2="773.5" y2="534.3" stroke="#111" stroke-width="3" stroke-linecap="round"/>
<line x1="943.7" y1="739.3" x2="943.7" y2="534" stroke="#111" stroke-width="3" stroke-linecap="round"/>
<circle cx="223.8" cy="209.8" r="15.8" fill="#111"/>
<text x="223.8" y="219.60000000000002" text-anchor="middle" font-family="Liberation Sans" font-weight="bold" font-size="29" fill="#fff">1</text>
<circle cx="287.4" cy="209.8" r="15.8" fill="#111"/>
<text x="287.4" y="219.60000000000002" text-anchor="middle" font-family="Liberation Sans" font-weight="bold" font-size="29" fill="#fff">2</text>
<circle cx="402.1" cy="209.8" r="15.8" fill="#111"/>
<text x="402.1" y="219.60000000000002" text-anchor="middle" font-family="Liberation Sans" font-weight="bold" font-size="29" fill="#fff">3</text>
<circle cx="514.5" cy="209.8" r="15.8" fill="#111"/>
<text x="514.5" y="219.60000000000002" text-anchor="middle" font-family="Liberation Sans" font-weight="bold" font-size="29" fill="#fff">4</text>
<circle cx="628.3" cy="209.8" r="15.8" fill="#111"/>
<text x="628.3" y="219.60000000000002" text-anchor="middle" font-family="Liberation Sans" font-weight="bold" font-size="29" fill="#fff">5</text>
<circle cx="695.8" cy="209.8" r="15.8" fill="#111"/>
<text x="695.8" y="219.60000000000002" text-anchor="middle" font-family="Liberation Sans" font-weight="bold" font-size="29" fill="#fff">6</text>
<circle cx="760.2" cy="209.8" r="15.8" fill="#111"/>
<text x="760.2" y="219.60000000000002" text-anchor="middle" font-family="Liberation Sans" font-weight="bold" font-size="29" fill="#fff">5</text>
<circle cx="1020.5" cy="209.8" r="15.8" fill="#111"/>
<text x="1020.5" y="219.60000000000002" text-anchor="middle" font-family="Liberation Sans" font-weight="bold" font-size="29" fill="#fff">7</text>
<circle cx="1200.7" cy="209.8" r="15.8" fill="#111"/>
<text x="1200.7" y="219.60000000000002" text-anchor="middle" font-family="Liberation Sans" font-weight="bold" font-size="29" fill="#fff">1</text>
<circle cx="213.3" cy="739.3" r="15.8" fill="#111"/>
<text x="213.3" y="749.0" text-anchor="middle" font-family="Liberation Sans" font-weight="bold" font-size="27" fill="#fff" textLength="25" lengthAdjust="spacingAndGlyphs">15</text>
<circle cx="261.8" cy="739.3" r="15.8" fill="#111"/>
<text x="261.8" y="749.0" text-anchor="middle" font-family="Liberation Sans" font-weight="bold" font-size="27" fill="#fff" textLength="25" lengthAdjust="spacingAndGlyphs">14</text>
<circle cx="302.4" cy="739.3" r="15.8" fill="#111"/>
<text x="302.4" y="749.0" text-anchor="middle" font-family="Liberation Sans" font-weight="bold" font-size="27" fill="#fff" textLength="25" lengthAdjust="spacingAndGlyphs">13</text>
<circle cx="392.8" cy="739.3" r="15.8" fill="#111"/>
<text x="392.8" y="749.0" text-anchor="middle" font-family="Liberation Sans" font-weight="bold" font-size="27" fill="#fff" textLength="25" lengthAdjust="spacingAndGlyphs">12</text>
<circle cx="482.1" cy="739.3" r="15.8" fill="#111"/>
<text x="482.1" y="749.0" text-anchor="middle" font-family="Liberation Sans" font-weight="bold" font-size="27" fill="#fff" textLength="25" lengthAdjust="spacingAndGlyphs">11</text>
<circle cx="714.5" cy="739.3" r="15.8" fill="#111"/>
<text x="714.5" y="749.0" text-anchor="middle" font-family="Liberation Sans" font-weight="bold" font-size="27" fill="#fff" textLength="25" lengthAdjust="spacingAndGlyphs">10</text>
<circle cx="773.5" cy="739.3" r="15.8" fill="#111"/>
<text x="773.5" y="749.0999999999999" text-anchor="middle" font-family="Liberation Sans" font-weight="bold" font-size="29" fill="#fff">9</text>
<circle cx="943.7" cy="739.3" r="15.8" fill="#111"/>
<text x="943.7" y="749.0999999999999" text-anchor="middle" font-family="Liberation Sans" font-weight="bold" font-size="29" fill="#fff">8</text>
<text class="t" x="1247.7" y="777.4" font-size="12.5" font-weight="bold" textLength="55" lengthAdjust="spacingAndGlyphs">F0L0516m</text>
<text class="t" x="99" y="804.4" font-size="20.5" textLength="51.6" lengthAdjust="spacingAndGlyphs">Abb. 1</text>
<text class="t" x="99" y="869.5" font-size="22" textLength="1203" lengthAdjust="spacingAndGlyphs">1. Seitliche Luftdüse - 2. Linker Hebel: für Außenlicht - 3. Instrumententafel und Kontrollleuchten - 4. Rechter Hebel: Bedienungs-</text>
<text class="t" x="99" y="893.2" font-size="22" textLength="1203" lengthAdjust="spacingAndGlyphs">elemente für Front-/Heckscheibenwischer, Trip Computer - 5. Mittlere Luftdüsen - 6. Autoradio - 7. Airbag Beifahrerseite - 8. Hand-</text>
<text class="t" x="99" y="917.8" font-size="22" textLength="1204" lengthAdjust="spacingAndGlyphs">schuhfach - 9. Bedienungselemente für Heizung/Gebläse/Klimaanlage - 10. Schalthebel - 11. Knie-Airbag Fahrerseite - 12. Airbag</text>
<text class="t" x="99" y="941.5" font-size="22" textLength="1074" lengthAdjust="spacingAndGlyphs">Fahrer - 13. Bedienhebel für Cruise Control - 14. Zugangsklappe zum Steuergerät - 15. Abdeckung Bedienelemente.</text>
<path d="M1445 45.7 H1351 A13 13 0 0 0 1338 58.7 V149.2 A13 13 0 0 0 1351 162.2 H1445 Z" fill="#231f20"/>
<path d="M1446 162 H1352.8 A13 13 0 0 0 1339.8 175 V260 A13 13 0 0 0 1352.8 273 H1446" fill="none" stroke="#8e8f91" stroke-width="4.5"/>
<path d="M1446 273 H1352.8 A13 13 0 0 0 1339.8 286 V372 A13 13 0 0 0 1352.8 385 H1446" fill="none" stroke="#8e8f91" stroke-width="4.5"/>
<path d="M1446 385 H1352.8 A13 13 0 0 0 1339.8 398 V485 A13 13 0 0 0 1352.8 498 H1446" fill="none" stroke="#8e8f91" stroke-width="4.5"/>
<path d="M1446 498 H1352.8 A13 13 0 0 0 1339.8 511 V598 A13 13 0 0 0 1352.8 611 H1446" fill="none" stroke="#8e8f91" stroke-width="4.5"/>
<path d="M1446 611 H1352.8 A13 13 0 0 0 1339.8 624 V710 A13 13 0 0 0 1352.8 723 H1446" fill="none" stroke="#8e8f91" stroke-width="4.5"/>
<path d="M1446 723 H1352.8 A13 13 0 0 0 1339.8 736 V823 A13 13 0 0 0 1352.8 836 H1446" fill="none" stroke="#8e8f91" stroke-width="4.5"/>
<path d="M1446 836 H1352.8 A13 13 0 0 0 1339.8 849 V935.5 A13 13 0 0 0 1352.8 948.5 H1446" fill="none" stroke="#8e8f91" stroke-width="4.5"/>
<path d="M1445 45.7 H1351 A13 13 0 0 0 1338 58.7 V149.2 A13 13 0 0 0 1351 162.2 H1445 Z" fill="#231f20"/>
<text transform="translate(1377.4 104) rotate(-90)" text-anchor="middle" font-family="Liberation Sans" font-weight="bold" font-size="22.5" fill="#fff" stroke="#fff" stroke-width="0.7" textLength="112.7" lengthAdjust="spacingAndGlyphs">ARMATURENBRETT</text>
<text transform="translate(1399.3 104) rotate(-90)" text-anchor="middle" font-family="Liberation Sans" font-weight="bold" font-size="22.5" fill="#fff" stroke="#fff" stroke-width="0.7" textLength="26" lengthAdjust="spacingAndGlyphs">UND</text>
<text transform="translate(1421.1 104) rotate(-90)" text-anchor="middle" font-family="Liberation Sans" font-weight="bold" font-size="22.5" fill="#fff" stroke="#fff" stroke-width="0.7" textLength="102" lengthAdjust="spacingAndGlyphs">BEDIENELEMENTE</text>
<text transform="translate(1377.4 216.4) rotate(-90)" text-anchor="middle" font-family="Liberation Sans" font-weight="bold" font-size="22.5" fill="#8e8f91" stroke="#8e8f91" stroke-width="0.7" textLength="77.2" lengthAdjust="spacingAndGlyphs">SICHERHEIT</text>
<text transform="translate(1377.4 329) rotate(-90)" text-anchor="middle" font-family="Liberation Sans" font-weight="bold" font-size="22.5" fill="#8e8f91" stroke="#8e8f91" stroke-width="0.7" textLength="70" lengthAdjust="spacingAndGlyphs">ANLASSEN</text>
<text transform="translate(1399.3 329) rotate(-90)" text-anchor="middle" font-family="Liberation Sans" font-weight="bold" font-size="22.5" fill="#8e8f91" stroke="#8e8f91" stroke-width="0.7" textLength="77.6" lengthAdjust="spacingAndGlyphs">UND FAHRT</text>
<text transform="translate(1377.4 441.8) rotate(-90)" text-anchor="middle" font-family="Liberation Sans" font-weight="bold" font-size="22.5" fill="#8e8f91" stroke="#8e8f91" stroke-width="0.7" textLength="78" lengthAdjust="spacingAndGlyphs">KONTROLL-</text>
<text transform="translate(1399.3 441.8) rotate(-90)" text-anchor="middle" font-family="Liberation Sans" font-weight="bold" font-size="22.5" fill="#8e8f91" stroke="#8e8f91" stroke-width="0.7" textLength="102.5" lengthAdjust="spacingAndGlyphs">LEUCHTEN UND</text>
<text transform="translate(1421.1 441.8) rotate(-90)" text-anchor="middle" font-family="Liberation Sans" font-weight="bold" font-size="22.5" fill="#8e8f91" stroke="#8e8f91" stroke-width="0.7" textLength="68.3" lengthAdjust="spacingAndGlyphs">ANZEIGEN</text>
<text transform="translate(1377.4 554.9) rotate(-90)" text-anchor="middle" font-family="Liberation Sans" font-weight="bold" font-size="22.5" fill="#8e8f91" stroke="#8e8f91" stroke-width="0.7" textLength="80.6" lengthAdjust="spacingAndGlyphs">IM NOTFALL</text>
<text transform="translate(1377.4 667) rotate(-90)" text-anchor="middle" font-family="Liberation Sans" font-weight="bold" font-size="22.5" fill="#8e8f91" stroke="#8e8f91" stroke-width="0.7" textLength="66.7" lengthAdjust="spacingAndGlyphs">WARTUNG</text>
<text transform="translate(1399.3 667) rotate(-90)" text-anchor="middle" font-family="Liberation Sans" font-weight="bold" font-size="22.5" fill="#8e8f91" stroke="#8e8f91" stroke-width="0.7" textLength="75.5" lengthAdjust="spacingAndGlyphs">UND PFLEGE</text>
<text transform="translate(1377.4 779) rotate(-90)" text-anchor="middle" font-family="Liberation Sans" font-weight="bold" font-size="22.5" fill="#8e8f91" stroke="#8e8f91" stroke-width="0.7" textLength="83" lengthAdjust="spacingAndGlyphs">TECHNISCHE</text>
<text transform="translate(1399.3 779) rotate(-90)" text-anchor="middle" font-family="Liberation Sans" font-weight="bold" font-size="22.5" fill="#8e8f91" stroke="#8e8f91" stroke-width="0.7" textLength="77" lengthAdjust="spacingAndGlyphs">MERKMALE</text>
<text transform="translate(1377.4 892) rotate(-90)" text-anchor="middle" font-family="Liberation Sans" font-weight="bold" font-size="22.5" fill="#8e8f91" stroke="#8e8f91" stroke-width="0.7" textLength="62" lengthAdjust="spacingAndGlyphs">INHALTS-</text>
<text transform="translate(1399.3 892) rotate(-90)" text-anchor="middle" font-family="Liberation Sans" font-weight="bold" font-size="22.5" fill="#8e8f91" stroke="#8e8f91" stroke-width="0.7" textLength="90" lengthAdjust="spacingAndGlyphs">VERZEICHNIS</text>
<text x="1355.4" y="989.2" font-family="Liberation Sans" font-weight="bold" font-size="33.5" fill="#231f20" stroke="#231f20" stroke-width="0.9" textLength="11.8" lengthAdjust="spacingAndGlyphs">5</text>
</svg>
</body></html>
